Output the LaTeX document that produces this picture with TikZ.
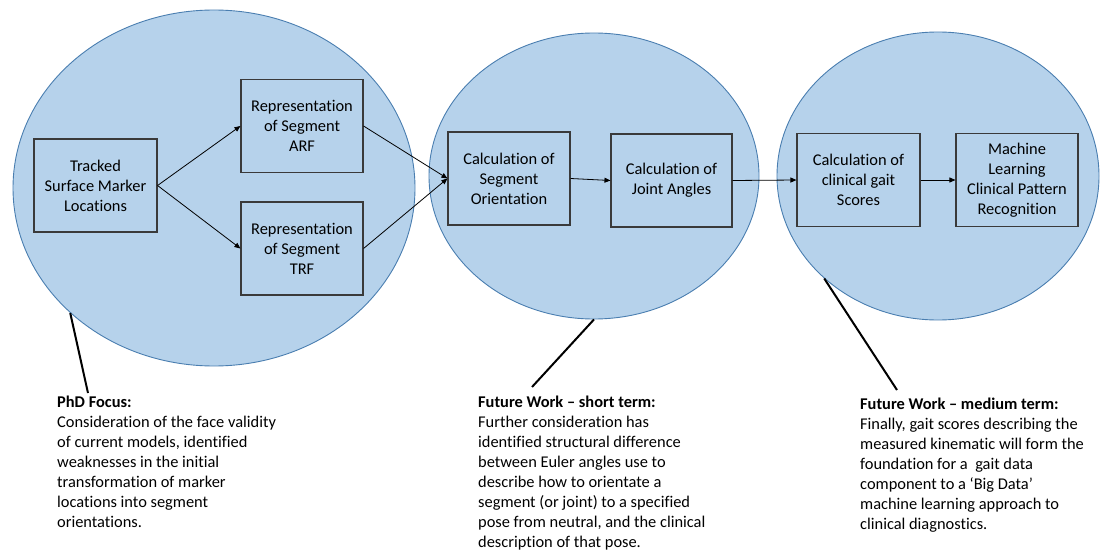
\documentclass[tikz,border=0pt]{standalone}
\usepackage{fontspec}
\setmainfont[Ligatures=NoCommon]{Carlito}
\usetikzlibrary{shapes.geometric,arrows.meta}
\definecolor{efill}{HTML}{B6D2EB}
\definecolor{edraw}{HTML}{4A7EB0}
\definecolor{bdraw}{HTML}{3A3A3A}
\tikzset{
  zone/.style={ellipse, draw=edraw, line width=0.9pt, fill=efill, inner sep=0pt},
  stepbox/.style={draw=bdraw, line width=1.1pt, minimum width=122pt, minimum height=93pt, align=center, inner sep=0pt, font=\fontsize{16.4pt}{20pt}\selectfont},
  flow/.style={draw=black, line width=0.8pt, -{Triangle[length=6pt,width=5pt]}},
  callout/.style={draw=black, line width=2pt},
  note/.style={anchor=north west, align=left, inner sep=0pt, font=\fontsize{16.4pt}{20pt}\selectfont}
}
\begin{document}
\begin{tikzpicture}[x=1pt,y=-1pt]
\path[use as bounding box] (0,0) rectangle (1101,551);
\node[zone, minimum width=402pt, minimum height=356pt] (lE) at (214,188) {};
\node[zone, minimum width=330pt, minimum height=286pt] (mE) at (594,176) {};
\node[zone, minimum width=322pt, minimum height=288pt] (rE) at (938,176) {};

\node[stepbox, minimum width=123pt] (track) at (95.5,185.5) {Tracked\\Surface Marker\\Locations};
\node[stepbox] (arf) at (302,126) {Representation\\of Segment\\ARF};
\node[stepbox] (trf) at (302,248.5) {Representation\\of Segment\\TRF};
\node[stepbox] (orient) at (509,178.5) {Calculation of\\Segment\\Orientation};
\node[stepbox, minimum width=121pt] (joint) at (671.5,180.5) {Calculation of\\Joint Angles};
\node[stepbox, minimum width=123pt] (gait) at (858.5,180) {Calculation of\\clinical gait\\Scores};
\node[stepbox] (ml) at (1017,180) {Machine\\Learning\\Clinical Pattern\\Recognition};

\draw[flow] (track.east) -- (arf.west);
\draw[flow] (track.east) -- (trf.west);
\draw[flow] (arf.east) -- (orient.west);
\draw[flow] (trf.east) -- (orient.west);
\draw[flow] (orient.east) -- (joint.west);
\draw[flow] (joint.east) -- (gait.west);
\draw[flow] (gait.east) -- (ml.west);

\coordinate (p1) at (88,393);
\coordinate (p2) at (532,387);
\coordinate (p3) at (897,390);
\draw[callout] (lE.221) -- (p1);
\draw[callout] (mE.270) -- (p2);
\draw[callout] (rE.222) -- (p3);

\node[note] (t1) at (57,396) {\textbf{PhD Focus:}\\Consideration of the face validity\\of current models, identified\\weaknesses in the initial\\transformation of marker\\locations into segment\\orientations.};
\node[note] (t2) at (478,396) {\textbf{Future Work – short term:}\\Further consideration has\\identified structural difference\\between Euler angles use to\\describe how to orientate a\\segment (or joint) to a specified\\pose from neutral, and the clinical\\description of that pose.};
\node[note] (t3) at (860,398) {\textbf{Future Work – medium term:}\\Finally, gait scores describing the\\measured kinematic will form the\\foundation for a\ \ gait data\\component to a ‘Big Data’\\machine learning approach to\\clinical diagnostics.};
\end{tikzpicture}
\end{document}
